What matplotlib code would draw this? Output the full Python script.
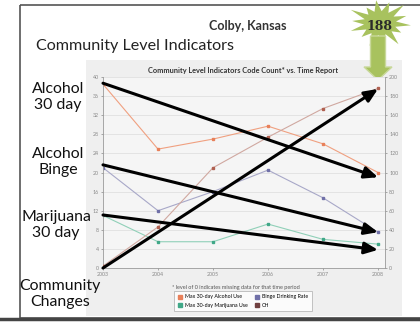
import numpy as np
import matplotlib
matplotlib.use('Agg')
import matplotlib.pyplot as plt
from matplotlib.patches import Rectangle, Polygon, FancyArrow
from matplotlib.lines import Line2D

plt.rcParams['font.family'] = ['Lato', 'DejaVu Sans']

# data
years = [2003, 2004, 2005, 2006, 2007, 2008]
alcohol_30 = [38.5, 24.9, 27.0, 29.7, 26.0, 20.0]
binge = [21.0, 12.0, 16.0, 20.5, 14.7, 7.5]
marijuana_30 = [11.0, 5.5, 5.5, 9.2, 6.0, 5.0]
ch = [2, 43, 105, 137, 167, 188]

# hand-drawn trend arrows (start value, end value on left axis)
trend_alc = (38.7, 19.0)
trend_binge = (21.6, 7.5)
trend_mj = (11.1, 3.8)
trend_ch = (0.0, 37.5)

left_ticks = list(range(0, 41, 4))
right_ticks = list(range(0, 201, 20))

W, H = 420, 322
fig = plt.figure(figsize=(W / 100, H / 100), dpi=100)
fig.patch.set_facecolor('white')

# overlay in pixel coords for the slide decoration
ov = fig.add_axes([0, 0, 1, 1])
ov.set_xlim(0, W)
ov.set_ylim(H, 0)
ov.axis('off')
ov.add_patch(Rectangle((20, 5), 420, 313, fill=False, ec='#555555', lw=1.2))
ov.plot([0, W], [319, 319], color='#444444', lw=2.5)
ov.add_patch(Rectangle((86, 60), 316, 256, fc='#efefef', ec='none'))

# starburst with the count
ang = np.linspace(0, 2 * np.pi, 29)[:-1] + 0.1
rad = np.where(np.arange(28) % 2 == 0, 27, 14) * np.array(
    [1, 1, 0.8, 1, 1.1, 1, 0.9, 1, 1.05, 1, 0.85, 1, 1, 1,
     0.9, 1, 1.1, 1, 0.8, 1, 1, 1, 0.95, 1, 1.1, 1, 0.9, 1])
ov.add_patch(Polygon(np.c_[380 + rad * np.cos(ang) * 1.15, 23 + rad * np.sin(ang) * 0.85],
                     fc='#a8c25e', ec='none'))
ov.add_patch(FancyArrow(378, 36, 0, 44, width=15, head_width=28, head_length=13,
                        length_includes_head=True, fc='#a8c25e', ec='#c8d89a', lw=1))
ov.text(380, 26, '188', fontsize=9, fontweight='bold', family='DejaVu Serif',
        ha='center', va='center', color='#2a2a2a')

ov.text(248, 26, 'Colby, Kansas', fontsize=9, fontweight='bold', ha='center', va='center',
        color='#333333')
ov.text(36, 46, 'Community Level Indicators', fontsize=11.6, ha='left', va='center',
        color='#222222')
ov.text(243, 70, 'Community Level Indicators Code Count* vs. Time Report', fontsize=5.3,
        fontweight='bold', ha='center', va='center', color='#333333')
for txt, x, y in [('Alcohol\n30 day', 58, 97), ('Alcohol\nBinge', 58, 162),
                  ('Marijuana\n30 day', 56, 225), ('Community\nChanges', 60, 294)]:
    ov.text(x, y, txt, fontsize=11.4, ha='center', va='center', color='#111111',
            linespacing=1.15)
ov.text(172, 287, '* level of 0 indicates missing data for that time period', fontsize=4,
        ha='left', va='center', color='#555555')

# chart
x0, x1, y0, y1 = 103, 385, 268, 77
ax = fig.add_axes([x0 / W, 1 - y0 / H, (x1 - x0) / W, (y0 - y1) / H])
ax.set_facecolor('#f5f5f5')
ax.set_xlim(2003, 2008 + 7 / 275 * 5)
ax.set_ylim(0, 40)
ax.set_yticks(left_ticks)
ax.set_xticks(years)
ax.tick_params(labelsize=3.8, colors='#888888', length=1.5, width=0.5, pad=1.5)
for s in ['top', 'right']:
    ax.spines[s].set_visible(False)
for s in ['left', 'bottom']:
    ax.spines[s].set_color('#999999')
    ax.spines[s].set_linewidth(0.6)
ax.grid(axis='y', color='#e0e0e0', lw=0.6)
ax.set_axisbelow(True)

axr = ax.twinx()
axr.set_ylim(0, 200)
axr.set_yticks(right_ticks)
axr.tick_params(labelsize=3.8, colors='#888888', length=1.5, width=0.5, pad=1.5)
for s in ['top', 'left', 'bottom']:
    axr.spines[s].set_visible(False)
axr.spines['right'].set_color('#999999')
axr.spines['right'].set_linewidth(0.6)

ax.plot(years, alcohol_30, color='#f0a080', lw=0.8, marker='s', ms=2,
        mfc='#e8805a', mec='#e8805a')
ax.plot(years, binge, color='#a8a8c8', lw=0.8, marker='s', ms=2,
        mfc='#7070a8', mec='#7070a8')
ax.plot(years, marijuana_30, color='#90d0b8', lw=0.8, marker='s', ms=2,
        mfc='#40a888', mec='#40a888')
axr.plot(years, ch, color='#d0a8a0', lw=0.8, marker='s', ms=2,
         mfc='#b06050', mec='#b06050')

for a, b in [trend_alc, trend_binge, trend_mj, trend_ch]:
    axr.annotate('', xy=(2008, b * 5), xytext=(2003, a * 5),
                 arrowprops=dict(arrowstyle='-|>,head_length=0.8,head_width=0.35',
                                 color='black', lw=2.2, shrinkA=0, shrinkB=0))

labels = ['Max 30-day Alcohol Use', 'Max 30-day Marijuana Use', 'Binge Drinking Rate', 'CH']
colors = ['#e8805a', '#40a888', '#7070a8', '#704040']
handles = [Line2D([], [], ls='none', marker='s', ms=3.5, mfc=c, mec=c) for c in colors]
leg = ov.legend(handles, labels, ncol=2, fontsize=3.8, loc='center',
                bbox_to_anchor=(243, 301), bbox_transform=ov.transData, frameon=True,
                fancybox=False, handlelength=0.8, handletextpad=0.6, columnspacing=1.2,
                borderpad=0.7, labelspacing=0.6)
leg.get_frame().set_edgecolor('#aaaaaa')
leg.get_frame().set_linewidth(0.6)

fig.savefig('out.png', dpi=100)
